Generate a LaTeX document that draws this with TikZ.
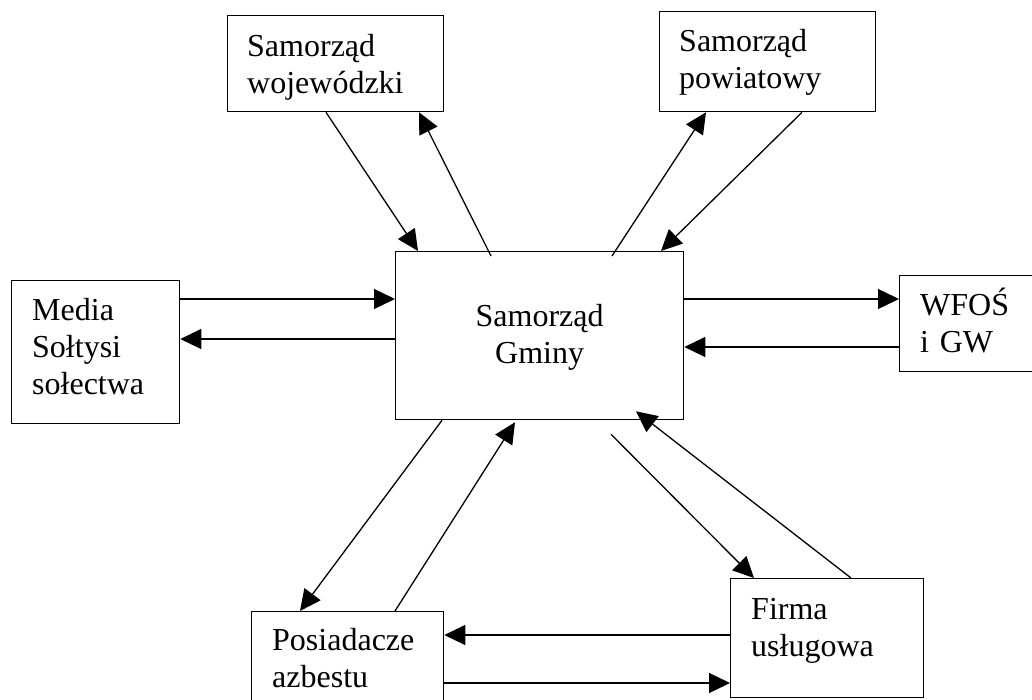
\documentclass[tikz,border=0pt]{standalone}
\usepackage{fontspec}
\setmainfont{Liberation Serif}
\usetikzlibrary{calc,arrows.meta}
\begin{document}
\begin{tikzpicture}[x=1pt,y=-1pt,
  box/.style={draw,line width=1.3pt,anchor=north west,inner sep=0pt},
  txt/.style={inner sep=0pt,anchor=base west,text width=200pt,align=left,
    font=\fontsize{32}{37}\selectfont},
  arr/.style={line width=1.3pt,-{Triangle[length=21pt,width=20pt]}}]
\useasboundingbox (0,0) rectangle (1032,700);
\fill[white] (0,0) rectangle (1032,700);
\clip (0,0) rectangle (1032,700);
% boxes
\node[box,minimum width=216pt,minimum height=96pt] (woj) at (227,15) {};
\node[box,minimum width=216pt,minimum height=100pt] (pow) at (659,11) {};
\node[box,minimum width=288pt,minimum height=168pt] (gm) at (395,251) {};
\node[box,minimum width=168pt,minimum height=143pt] (med) at (11,280) {};
\node[box,minimum width=140pt,minimum height=96pt] (wf) at (899,275) {};
\node[box,minimum width=192pt,minimum height=100pt] (pos) at (251,611) {};
\node[box,minimum width=193pt,minimum height=119pt] (fir) at (730,578) {};
% texts
\node[txt] (wojt) at ($(woj.north west)+(20,42)$) {Samorząd\\wojewódzki};
\node[txt] (powt) at ($(pow.north west)+(20,41)$) {Samorząd\\powiatowy};
\node[txt,anchor=base,align=center] (gmt) at ($(gm.north)+(0,75)$) {Samorząd\\Gminy};
\node[txt] (medt) at ($(med.north west)+(21,40)$) {Media\\Sołtysi\\sołectwa};
\node[txt] (wft) at ($(wf.north west)+(21,40)$) {WFOŚ\\i GW};
\node[txt] (post) at ($(pos.north west)+(21,39)$) {Posiadacze\\azbestu};
\node[txt] (firt) at ($(fir.north west)+(21,41)$) {Firma\\usługowa};
% connectors
\draw[arr] ($(woj.south west)+(99,0)$) -- ($(gm.north west)+(23,0)$);
\draw[arr] ($(gm.north west)+(96,5)$) -- ($(woj.south west)+(192,0)$);
\draw[arr] ($(gm.north west)+(217,5)$) -- ($(pow.south west)+(47,0)$);
\draw[arr] ($(pow.south west)+(143,0)$) -- ($(gm.north west)+(266,0)$);
\draw[arr] ($(gm.north east)+(0,48)$) -- ($(wf.north west)+(0,24)$);
\draw[arr] ($(wf.north west)+(0,72)$) -- ($(gm.north east)+(0,96)$);
\draw[arr] ($(med.north east)+(0,19)$) -- ($(gm.north west)+(0,48)$);
\draw[arr] ($(gm.north west)+(0,88)$) -- ($(med.north east)+(0,59)$);
\draw[arr] ($(gm.south west)+(47,0)$) -- ($(pos.north west)+(49,0)$);
\draw[arr] ($(pos.north west)+(144,0)$) -- ($(gm.south west)+(120,2)$);
\draw[arr] ($(gm.south west)+(216,14)$) -- ($(fir.north west)+(24,0)$);
\draw[arr] ($(fir.north west)+(121,0)$) -- ($(gm.south west)+(241,-9)$);
\draw[arr] ($(fir.north west)+(0,57)$) -- ($(pos.north east)+(0,24)$);
\draw[arr] ($(pos.north east)+(0,72)$) -- ($(fir.north west)+(0,105)$);
\end{tikzpicture}
\end{document}
